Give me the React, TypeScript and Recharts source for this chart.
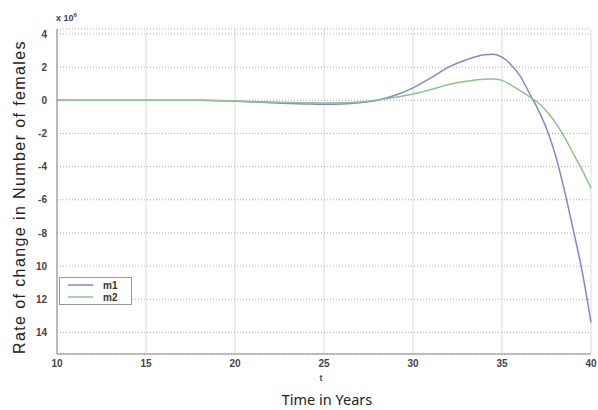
import React from "react";
import {
  LineChart,
  Line,
  XAxis,
  YAxis,
  CartesianGrid,
  Customized,
} from "recharts";

const years = [10, 11, 12, 13, 14, 15, 16, 17, 18, 19, 20, 21, 22, 23, 24, 25, 26, 27, 28, 29, 30, 31, 32, 33, 34, 34.5, 35, 35.5, 36, 36.5, 37, 37.5, 38, 38.5, 39, 39.5, 40];
const m1Values = [0, 0, 0, 0, 0, 0, 0, 0, 0, -0.02, -0.06, -0.1, -0.15, -0.19, -0.22, -0.24, -0.22, -0.15, 0.0, 0.3, 0.75, 1.35, 2.0, 2.45, 2.75, 2.78, 2.6, 2.15, 1.5, 0.5, -0.5, -1.7, -3.3, -5.4, -7.8, -10.3, -13.4];
const m2Values = [0, 0, 0, 0, 0, 0, 0, 0, 0, -0.01, -0.04, -0.07, -0.1, -0.13, -0.15, -0.16, -0.15, -0.1, 0.02, 0.18, 0.38, 0.65, 0.95, 1.15, 1.27, 1.28, 1.2, 0.92, 0.6, 0.25, -0.12, -0.65, -1.35, -2.2, -3.2, -4.2, -5.3];

const xTicks = [10, 15, 20, 25, 30, 35, 40];
const yTicks = [4, 2, 0, -2, -4, -6, -8, -10, -12, -14];
const yTickLabels = ["4", "2", "0", "-2", "-4", "-6", "-8", "10", "12", "14"];

const seriesNames = ["m1", "m2"];
const seriesColors = ["#8585d2", "#8fc28f"];

const data = years.map((t, i) => ({ t, m1: m1Values[i], m2: m2Values[i] }));

const FONT = "Liberation Sans, Arial, sans-serif";
const tickStyle = { fontFamily: FONT, fontSize: 10, fontWeight: 700, fill: "#444" };

const Overlay = () => (
  <g>
    <text x={56} y={21} style={{ fontFamily: FONT, fontSize: 9, fontWeight: 700, fill: "#444" }}>
      x 10
      <tspan dy={-4} fontSize={6}>6</tspan>
    </text>
    <text x={321} y={381} textAnchor="middle" style={{ fontFamily: FONT, fontSize: 9, fontWeight: 700, fill: "#444" }}>
      t
    </text>
    <text x={327} y={405} textAnchor="middle" style={{ fontFamily: "Noto Sans, sans-serif", fontSize: 14.5, fill: "#222" }}>
      Time in Years
    </text>
    <text
      x={0}
      y={0}
      transform="translate(25,197) rotate(-90)"
      textAnchor="middle"
      style={{ fontFamily: FONT, fontSize: 16, fill: "#222", letterSpacing: 1.4 }}
    >
      Rate of  change in Number of females
    </text>
    <g>
      <rect x={59.5} y={277.5} width={72} height={27} fill="#fff" stroke="#999" />
      {seriesNames.map((n, i) => (
        <g key={n}>
          <line x1={68} x2={93} y1={285 + i * 12} y2={285 + i * 12} stroke={seriesColors[i]} strokeWidth={1.5} />
          <text x={103} y={289 + i * 12} style={{ fontFamily: FONT, fontSize: 10, fontWeight: 700, fill: "#333" }}>
            {n}
          </text>
        </g>
      ))}
    </g>
  </g>
);

export default function App() {
  return (
    <div style={{ position: "absolute", left: 0, top: 0, background: "#fff" }}>
      <LineChart width={598} height={410} data={data} margin={{ top: 29, right: 7, bottom: 36, left: 27 }}>
        <CartesianGrid horizontal={false} stroke="#dcdcdc" strokeWidth={1} />
        <CartesianGrid vertical={false} stroke="#aaa" strokeDasharray="1 2" />
        <XAxis
          dataKey="t"
          type="number"
          domain={[10, 40]}
          ticks={xTicks}
          height={20}
          tickLine={false}
          tickSize={0}
          tickMargin={6}
          axisLine={{ stroke: "#888" }}
          tick={tickStyle}
        />
        <XAxis xAxisId="top" orientation="top" dataKey="t" type="number" domain={[10, 40]} height={0} tick={false} tickLine={false} axisLine={{ stroke: "#888" }} />
        <YAxis
          type="number"
          domain={[-15.3, 4.3]}
          ticks={yTicks}
          allowDataOverflow
          width={30}
          tickLine={false}
          tickSize={0}
          tickMargin={10}
          axisLine={{ stroke: "#888" }}
          tick={tickStyle}
          tickFormatter={(v: number) => yTickLabels[yTicks.indexOf(v)] ?? String(v)}
        />
        <YAxis yAxisId="right" orientation="right" type="number" domain={[-15.3, 4.3]} width={0} tick={false} tickLine={false} axisLine={{ stroke: "#888" }} />
        <Line type="monotone" dataKey="m1" name="m1" stroke={seriesColors[0]} strokeWidth={1.5} dot={false} isAnimationActive={false} />
        <Line type="monotone" dataKey="m2" name="m2" stroke={seriesColors[1]} strokeWidth={1.5} dot={false} isAnimationActive={false} />
        <Customized component={Overlay} />
      </LineChart>
    </div>
  );
}
